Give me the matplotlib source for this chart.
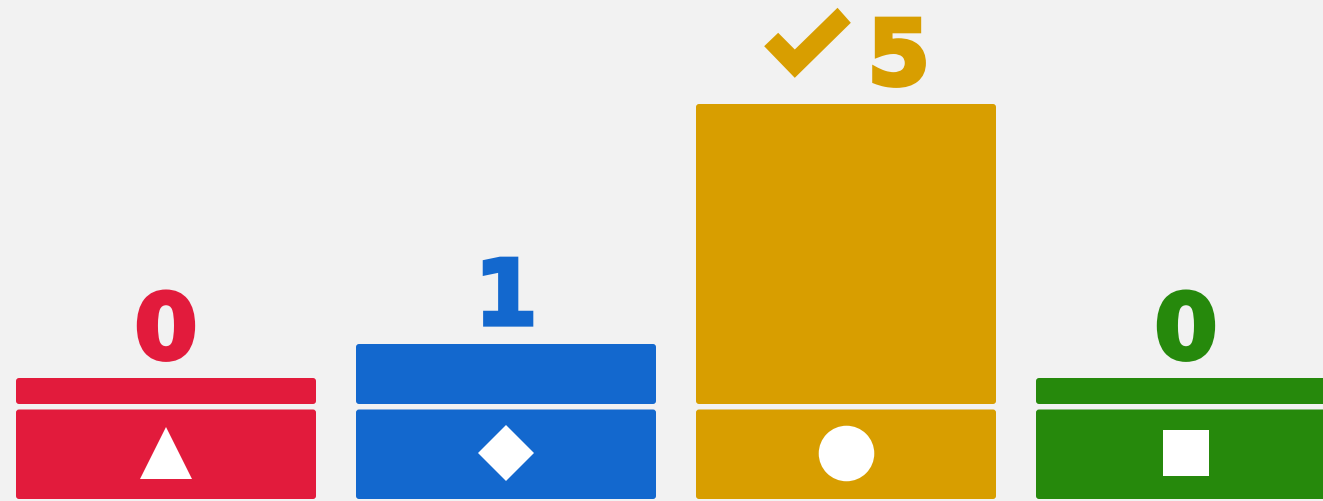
import numpy as np
import matplotlib
matplotlib.use("Agg")
import matplotlib.pyplot as plt
from matplotlib.patches import FancyBboxPatch
from matplotlib.path import Path
from matplotlib.markers import MarkerStyle
import matplotlib.patheffects as pe

# ---- data ----
answers = ["triangle", "diamond", "circle", "square"]
counts = [0, 1, 5, 0]
colors = ["#E21B3C", "#1368CE", "#D89E00", "#26890C"]
markers = ["^", "D", "o", "s"]
marker_sizes = [37, 29, 40, 33]
correct = [False, False, True, False]

BG = "#F2F2F2"
fig = plt.figure(figsize=(13.23, 5.02), dpi=100, facecolor=BG)
ax = fig.add_axes([0, 0, 1, 1])
ax.set_facecolor(BG)

# pixel geometry: x unit = 340 px, y unit = 60 px
px_x = 1 / 340.0
px_y = 1 / 60.0
ax.set_xlim(-166 * px_x, (1323 - 166) * px_x)
ax.set_ylim(-97 * px_y, 405 * px_y)
ax.axis("off")

x = np.arange(len(counts))
width = 300 * px_x
min_h = 26 * px_y
heights = np.maximum(np.array(counts, dtype=float), min_h)

base_top = -5.5 * px_y
base_bot = -95 * px_y
r = 3 * px_x
aspect = px_y / px_x

for xi, h, c in zip(x, heights, colors):
    top = FancyBboxPatch((xi - width / 2, 0), width, h,
                         boxstyle=f"round,pad=0,rounding_size={r}",
                         mutation_aspect=aspect, fc=c, ec="none")
    ax.add_patch(top)
    base = FancyBboxPatch((xi - width / 2, base_bot), width, base_top - base_bot,
                          boxstyle=f"round,pad=0,rounding_size={r}",
                          mutation_aspect=aspect, fc=c, ec="none")
    ax.add_patch(base)

# shape icons
icon_y = (base_top + base_bot) / 2 + 1 * px_y
for xi, m, ms in zip(x, markers, marker_sizes):
    ax.plot([xi], [icon_y], marker=m, markersize=ms, color="white",
            markeredgewidth=0, linestyle="none")

# filled check mark polygon (marker shape)
check = Path([(-29.3, 9.7), (-43.3, -3.7), (-12.7, -35.3), (43.3, 19.7),
              (30, 34.7), (-12.7, -7), (-29.3, 9.7)],
             [Path.MOVETO] + [Path.LINETO] * 5 + [Path.CLOSEPOLY])
check_style = MarkerStyle(check)

for xi, h, v, c, ok in zip(x, heights, counts, colors, correct):
    dx = 38 if ok else 0
    t = ax.annotate(str(v), (xi, h), xytext=(dx, 14), textcoords="offset points",
                    ha="center", va="baseline", fontsize=65, fontweight="bold",
                    color=c, family="DejaVu Sans")
    t.set_path_effects([pe.Stroke(linewidth=3, foreground=c, joinstyle="miter"),
                        pe.Normal()])
    if ok:
        cy = h + 62 * px_y
        ax.plot([xi - 39.5 * px_x], [cy], marker=check_style, markersize=62.4,
                markerfacecolor=c, markeredgewidth=0, linestyle="none")

fig.savefig("out.png", dpi=100, facecolor=BG)
